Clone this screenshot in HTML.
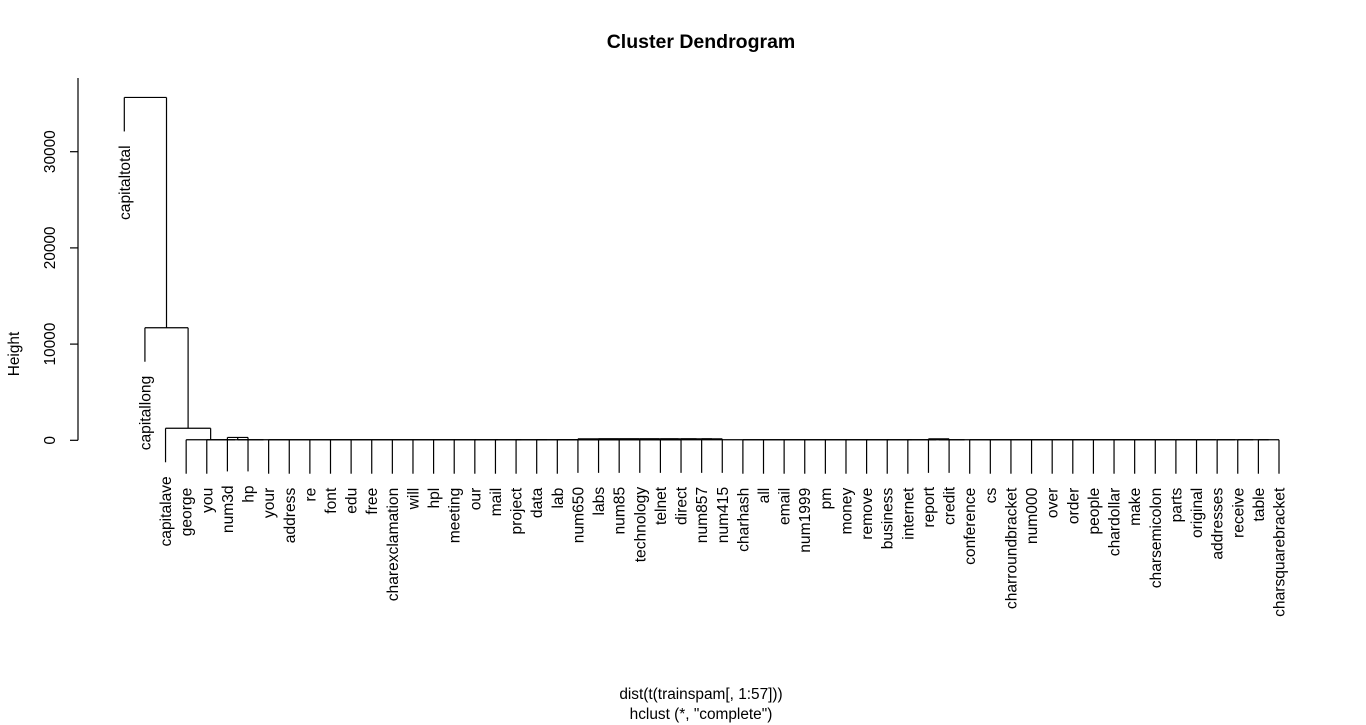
<!DOCTYPE html>
<html><head><meta charset="utf-8"><style>
body{margin:0;background:#fff;}
svg{display:block;font-family:"Liberation Sans",Arial,sans-serif;}
</style></head><body>
<svg id="chart" width="1366" height="725">
<text x="701" y="48" text-anchor="middle" font-size="19.5" font-weight="bold">Cluster Dendrogram</text>
<text x="701" y="699" text-anchor="middle" font-size="15.4">dist(t(trainspam[, 1:57]))</text>
<text x="701" y="719" text-anchor="middle" font-size="15.4">hclust (*, "complete")</text>
<text x="0" y="0" transform="translate(19,354) rotate(-90)" text-anchor="middle" font-size="15.4">Height</text>
<g id="axis"></g>
<g id="tree"></g>
<g id="labels"></g>
</svg>
<script>
const yTicks = [0, 10000, 20000, 30000];
const restLeaves = ["your","address","re","font","edu","free","charexclamation","will","hpl","meeting","our","mail","project","data","lab"];
const midLeaves = ["num650","labs","num85","technology","telnet","direct","num857","num415"];
const tailLeaves = ["charhash","all","email","num1999","pm","money","remove","business","internet"];
const endLeaves = ["conference","cs","charroundbracket","num000","over","order","people","chardollar","make","charsemicolon","parts","original","addresses","receive","table","charsquarebracket"];
const topHeights = [35640, 11700, 1250];
const chainHeight = 60;
const midHeight = 150;
const pairHeights = [300, 150];

function chain(items, h){
  let node = items[items.length-1];
  for(let i=items.length-2;i>=0;i--) node = {l:items[i], r:node, h:h};
  return node;
}
const midCluster = chain(midLeaves, midHeight);
const flatItems = ["george","you",{l:"num3d",r:"hp",h:pairHeights[0]}, ...restLeaves, midCluster, ...tailLeaves, {l:"report",r:"credit",h:pairHeights[1]}, ...endLeaves];
const flatCluster = chain(flatItems, chainHeight);
const root = {l:"capitaltotal", r:{l:"capitallong", r:{l:"capitalave", r:flatCluster, h:topHeights[2]}, h:topHeights[1]}, h:topHeights[0]};

const NS="http://www.w3.org/2000/svg";
const X0=124.3, X1=1279, Y0=440.3, PXU=96.2/10000, HANG=34;
const leaves=[]; (function coll(n){ if(typeof n==="string") leaves.push(n); else {coll(n.l);coll(n.r);} })(root);
const xs = i => X0 + i*(X1-X0)/(leaves.length-1);
const yv = v => Y0 - v*PXU;

const axis=document.getElementById('axis');
function ln(g,x1,y1,x2,y2,name){const l=document.createElementNS(NS,'line');
l.setAttribute('x1',x1);l.setAttribute('y1',y1);l.setAttribute('x2',x2);l.setAttribute('y2',y2);
l.setAttribute('stroke','#000');l.setAttribute('stroke-width','1.2');


g.appendChild(l);return l;}
ln(axis,78,78,78,yv(0),'y-axis-line');
yTicks.forEach(t=>{ln(axis,70,yv(t),78,yv(t),'y-tick');
 const tx=document.createElementNS(NS,'text');
 tx.setAttribute('transform',`translate(55,${yv(t)}) rotate(-90)`);
 tx.setAttribute('text-anchor','middle');tx.setAttribute('font-size','15.4');
 tx.textContent=t;
 
 
 axis.appendChild(tx);});

const tree=document.getElementById('tree'), lab=document.getElementById('labels');
let idx=0;
function draw(n, parentH){
  if(typeof n==="string"){
    const x=xs(idx++); const yEnd=yv(parentH)+HANG;
    ln(tree,x,yv(parentH),x,yEnd,'leaf-branch');
    const tx=document.createElementNS(NS,'text');
    tx.setAttribute('transform',`translate(${x+5.5},${yEnd+14}) rotate(-90)`);
    tx.setAttribute('text-anchor','end');tx.setAttribute('font-size','15.6');
    tx.textContent=n;
    
    
    lab.appendChild(tx);
    return x;
  }
  const xl=draw(n.l,n.h), xr=draw(n.r,n.h);
  ln(tree,xl,yv(n.h),xr,yv(n.h),'merge-bar');
  const xc=(xl+xr)/2;
  if(parentH!==null) ln(tree,xc,yv(parentH),xc,yv(n.h),'merge-stem');
  return xc;
}
draw(root,null);
</script>
</body></html>
